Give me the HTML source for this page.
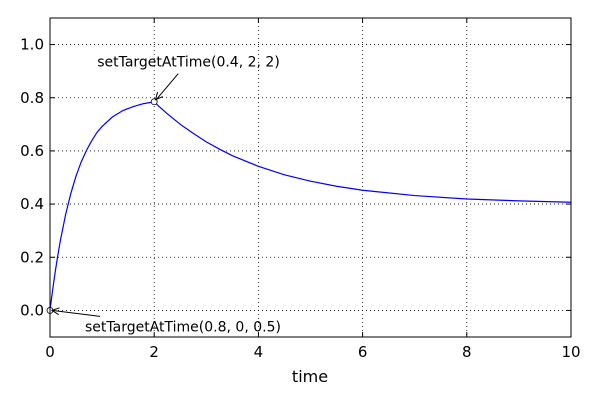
<!DOCTYPE html>
<html><head><meta charset="utf-8"><style>
body{margin:0;background:#fff}
svg{display:block;font-family:"DejaVu Sans","Liberation Sans",sans-serif}
</style></head><body>
<svg id="chart" width="600" height="400">
<rect x="0" y="0" width="600" height="400" fill="#fff"/>
<g id="grid"></g>
<g id="ticks"></g>
<path id="curve" fill="none" stroke="#0000ff" stroke-width="1.2"/>
<g id="markers"></g>
<rect x="50" y="18" width="521" height="319" fill="none" stroke="#000" stroke-width="1"/>
<text x="310" y="382" font-size="16" text-anchor="middle">time</text>
<g id="annots"></g>
</svg>
<script>
const xTicks=[0,2,4,6,8,10];
const yTicks=[0.0,0.2,0.4,0.6,0.8,1.0];
const curveT=[0,0.05,0.1,0.15,0.2,0.3,0.4,0.5,0.6,0.7,0.8,0.9,1.0,1.2,1.4,1.6,1.8,2.0,2.1,2.25,2.5,2.75,3,3.25,3.5,4,4.5,5,5.5,6,7,8,9,10];
const curveV=[0,0.076,0.145,0.207,0.264,0.361,0.440,0.506,0.559,0.602,0.638,0.669,0.692,0.728,0.752,0.767,0.778,0.785,0.766,0.740,0.700,0.666,0.634,0.607,0.582,0.542,0.510,0.486,0.467,0.452,0.432,0.419,0.412,0.407];
const markT=[0,2];
const markV=[0,0.785];
const annText=["setTargetAtTime(0.8, 0, 0.5)","setTargetAtTime(0.4, 2, 2)"];
const NS="http://www.w3.org/2000/svg";
const X0=50,X1=571,Y0=337,Y1=18,xmin=0,xmax=10,ymin=-0.1,ymax=1.1;
const sx=v=>X0+(v-xmin)/(xmax-xmin)*(X1-X0);
const sy=v=>Y0-(v-ymin)/(ymax-ymin)*(Y0-Y1);
function mk(tag,attrs,parent){const e=document.createElementNS(NS,tag);for(const k in attrs)e.setAttribute(k,attrs[k]);document.getElementById(parent).appendChild(e);return e;}
xTicks.forEach(t=>{
 const g=mk('line',{x1:sx(t),x2:sx(t),y1:Y1,y2:Y0,stroke:'#000','stroke-dasharray':'1,3','stroke-width':0.8},'grid');
 
 
 mk('line',{x1:sx(t),x2:sx(t),y1:Y0,y2:Y0-5,stroke:'#000'},'ticks');
 mk('line',{x1:sx(t),x2:sx(t),y1:Y1,y2:Y1+5,stroke:'#000'},'ticks');
 const l=mk('text',{x:sx(t),y:Y0+20,'font-size':15,'text-anchor':'middle'},'ticks');
 l.textContent=t;
 
 
});
yTicks.forEach(t=>{
 const g=mk('line',{x1:X0,x2:X1,y1:sy(t),y2:sy(t),stroke:'#000','stroke-dasharray':'1,3','stroke-width':0.8},'grid');
 
 
 mk('line',{x1:X0,x2:X0+5,y1:sy(t),y2:sy(t),stroke:'#000'},'ticks');
 mk('line',{x1:X1,x2:X1-5,y1:sy(t),y2:sy(t),stroke:'#000'},'ticks');
 const l=mk('text',{x:X0-6,y:sy(t)+5,'font-size':15,'text-anchor':'end'},'ticks');
 l.textContent=t.toFixed(1);
 
 
});
document.getElementById('curve').setAttribute('d',curveT.map((t,i)=>(i?'L':'M')+sx(t).toFixed(2)+','+sy(curveV[i]).toFixed(2)).join(''));
markT.forEach((t,i)=>{
 const c=mk('circle',{cx:sx(t),cy:sy(markV[i]),r:3,fill:'#fff',stroke:'#000','stroke-width':0.8},'markers');
 
 
});
const offs=[[35,21,50,6],[-57,-35,24,-28]];
markT.forEach((t,i)=>{
 const px=sx(t),py=sy(markV[i]);
 const [tx,ty,ax,ay]=offs[i];
 const tl=mk('text',{x:px+tx,y:py+ty,'font-size':14},'annots');
 tl.textContent=annText[i];
 
 
 const sxp=px+ax,syp=py+ay;
 mk('line',{x1:sxp,y1:syp,x2:px+2,y2:py+(i?-2:0),stroke:'#000','stroke-width':1},'annots');
 const ang=Math.atan2(py-syp,px-sxp);
 const hx=px+2*Math.cos(ang+Math.PI),hy=py+(i?-2:0);
 const a1=ang+Math.PI-0.45,a2=ang+Math.PI+0.45;
 const hp=mk('path',{d:`M${hx+8*Math.cos(a1)},${hy+8*Math.sin(a1)}L${hx},${hy}L${hx+8*Math.cos(a2)},${hy+8*Math.sin(a2)}`,fill:'none',stroke:'#000','stroke-width':1},'annots');
 
 
});
</script>
</body></html>
